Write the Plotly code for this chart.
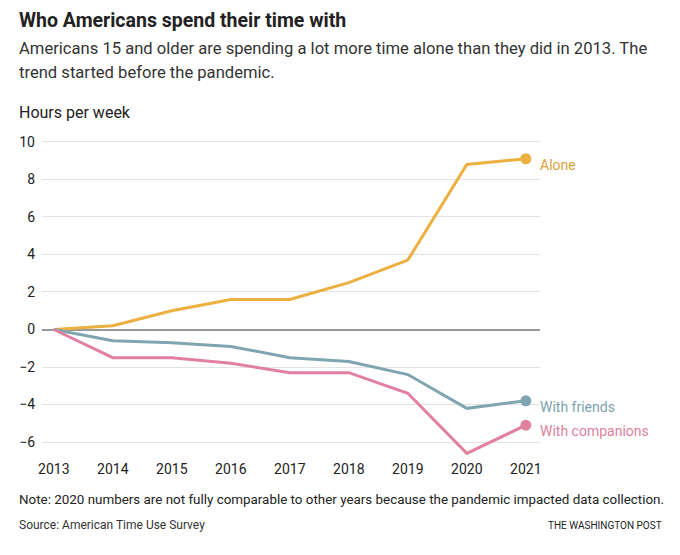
import plotly.graph_objects as go

years = [2013, 2014, 2015, 2016, 2017, 2018, 2019, 2020, 2021]
alone = [0, 0.2, 1.0, 1.6, 1.6, 2.5, 3.7, 8.8, 9.1]
with_friends = [0, -0.6, -0.7, -0.9, -1.5, -1.7, -2.4, -4.2, -3.8]
with_companions = [0, -1.5, -1.5, -1.8, -2.3, -2.3, -3.4, -6.6, -5.1]

y_ticks = [-6, -4, -2, 0, 2, 4, 6, 8, 10]
y_tick_text = ['\u22126', '\u22124', '\u22122', '0', '2', '4', '6', '8', '10']

series = [
    ('Alone', alone, '#ebb03f', '#d9a13a'),
    ('With friends', with_friends, '#7fa6b0', '#7aa2ae'),
    ('With companions', with_companions, '#e2819e', '#de7f9c'),
]

# the page has an 8px body margin, so the figure is drawn 8px in from the corner
OFF = 8
W, H = 680 - OFF, 555 - OFF
L, R, T, B = 42 - OFF, 140, 140 - OFF, 96
PW, PH = W - L - R, H - T - B


def px(x, y):
    # window pixel position -> paper coords
    return (x - OFF - L) / PW, (H - B - (y - OFF)) / PH


FONT = 'Roboto'

fig = go.Figure()

for name, vals, color, txt in series:
    fig.add_trace(go.Scatter(
        x=years, y=vals, mode='lines', name=name,
        line=dict(color=color, width=3), hoverinfo='skip'
    ))
    fig.add_trace(go.Scatter(
        x=years[-1:], y=vals[-1:], mode='markers',
        marker=dict(color=color, size=11), hoverinfo='skip'
    ))
    fig.add_annotation(
        x=years[-1], y=vals[-1], xref='x', yref='y', text=name,
        showarrow=False, xanchor='left', yanchor='middle',
        xshift=12, yshift=-6,
        font=dict(family=FONT, size=14, color=txt)
    )

# (x, y, text, size, colour, xanchor, yanchor)
texts = [
    (18, 8, '<b>Who Americans spend their time with</b>', 19.5, '#222222', 'left', 'top'),
    (18, 48, 'Americans 15 and older are spending a lot more time alone than they did in 2013. The', 16.6, '#333333', 'left', 'middle'),
    (18, 72, 'trend started before the pandemic.', 16.6, '#333333', 'left', 'middle'),
    (18, 113, 'Hours per week', 16, '#222222', 'left', 'middle'),
    (18, 499, 'Note: 2020 numbers are not fully comparable to other years because the pandemic impacted data collection.', 13.4, '#222222', 'left', 'middle'),
    (18, 525, 'Source: American Time Use Survey', 12, '#333333', 'left', 'middle'),
    (663, 525, 'THE WASHINGTON POST', 10, '#222222', 'right', 'middle'),
]
for x, y, t, size, col, xa, ya in texts:
    xp, yp = px(x, y)
    fig.add_annotation(
        x=xp, y=yp, xref='paper', yref='paper', text=t, showarrow=False,
        xanchor=xa, yanchor=ya, borderpad=0,
        font=dict(family=FONT, size=size, color=col)
    )

fig.update_layout(
    width=W, height=H,
    margin=dict(l=L, r=R, t=T, b=B),
    plot_bgcolor='white', paper_bgcolor='white',
    showlegend=False,
    font=dict(family=FONT, size=14, color='#222222'),
    xaxis=dict(
        range=[2012.8, 2021.24], tickvals=years, showgrid=False,
        zeroline=False, showline=False, ticks='', fixedrange=True,
        tickfont=dict(family=FONT, size=14, color='#222222'),
    ),
    yaxis=dict(
        range=[-6.9, 10.1], tickvals=y_ticks, ticktext=y_tick_text,
        showgrid=True, gridcolor='#e3e3e3', gridwidth=1,
        zeroline=True, zerolinecolor='#999999', zerolinewidth=1.5,
        showline=False, ticks='', ticklabelstandoff=6, fixedrange=True,
        tickfont=dict(family=FONT, size=14, color='#222222'),
    ),
)

fig.write_html("out.html")
